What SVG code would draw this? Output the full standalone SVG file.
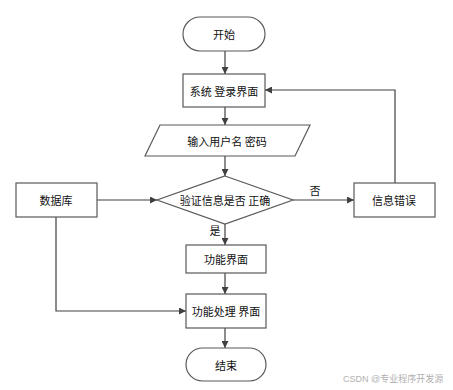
<svg xmlns="http://www.w3.org/2000/svg" width="453" height="390" viewBox="0 0 453 390">
<style>
.n{fill:#fff;stroke:#595959;stroke-width:1.2}
.t{font-family:"Noto Sans CJK SC","Liberation Sans",sans-serif;font-size:11px;fill:#111;text-anchor:middle;dominant-baseline:central}
.c{fill:none;stroke:#404040;stroke-width:1.2}
.w{font-family:"Liberation Sans","Noto Sans CJK SC",sans-serif;font-size:9px;fill:#b0b0b0}
</style>
<defs>
<marker id="a" viewBox="0 0 10 10" refX="10" refY="5" markerWidth="7" markerHeight="7" orient="auto" markerUnits="userSpaceOnUse"><path d="M0,0L10,5L0,10z" fill="#404040"/></marker>
</defs>
<rect width="453" height="390" fill="#fff"/>
<g id="connectors">
<path class="c" d="M225,51V74" marker-end="url(#a)"/>
<path class="c" d="M225,107V125" marker-end="url(#a)"/>
<path class="c" d="M225,156V176" marker-end="url(#a)"/>
<path class="c" d="M97,200H157" marker-end="url(#a)"/>
<path class="c" d="M293,200H354" marker-end="url(#a)"/>
<path class="c" d="M395,183V90H265" marker-end="url(#a)"/>
<path class="c" d="M225,224V245" marker-end="url(#a)"/>
<path class="c" d="M225,273V294" marker-end="url(#a)"/>
<path class="c" d="M56,217V311H186" marker-end="url(#a)"/>
<path class="c" d="M225,328V348" marker-end="url(#a)"/>
<text class="t" x="315" y="190">否</text>
<text class="t" x="215" y="230">是</text>
</g>
<g id="start"><rect class="n" x="183" y="17" width="82" height="34" rx="17"/><text class="t" x="224" y="34">开始</text></g>
<g id="login"><rect class="n" x="183" y="74" width="82" height="33"/><text class="t" x="224" y="90.5">系统 登录界面</text></g>
<g id="input"><polygon class="n" points="160,125 310,125 295,156 145,156"/><text class="t" x="227" y="140.5">输入用户名 密码</text></g>
<g id="db"><rect class="n" x="16" y="183" width="81" height="34"/><text class="t" x="56" y="200">数据库</text></g>
<g id="verify"><polygon class="n" points="225,176 293,200 225,224 157,200"/><text class="t" x="225" y="200">验证信息是否 正确</text></g>
<g id="error"><rect class="n" x="354" y="183" width="81" height="34"/><text class="t" x="394" y="200">信息错误</text></g>
<g id="func"><rect class="n" x="186" y="245" width="80" height="28"/><text class="t" x="226" y="259">功能界面</text></g>
<g id="proc"><rect class="n" x="186" y="294" width="80" height="34"/><text class="t" x="226" y="311">功能处理 界面</text></g>
<g id="end"><rect class="n" x="186" y="348" width="80" height="33" rx="16.5"/><text class="t" x="226" y="364.5">结束</text></g>
<text class="w" x="343" y="382">CSDN @专业程序开发源</text>
</svg>
